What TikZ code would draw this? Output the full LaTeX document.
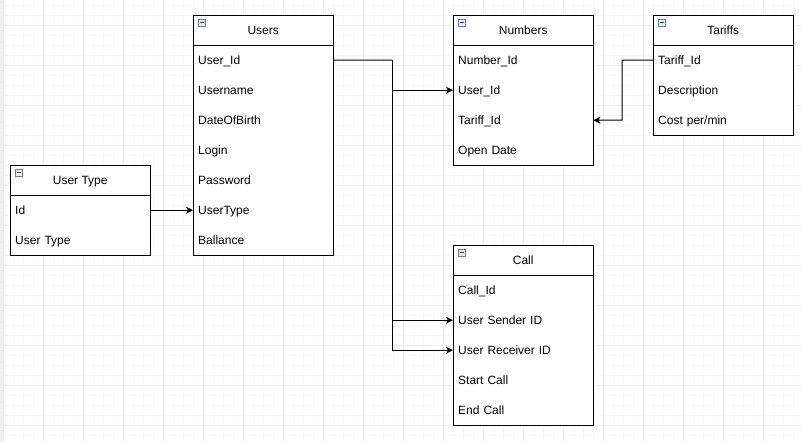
\documentclass[tikz,border=0pt]{standalone}
\usepackage{fontspec}
\setmainfont{Liberation Sans}
\usetikzlibrary{arrows.meta}

\definecolor{iconedge}{RGB}{112,128,148}
\definecolor{iconfill}{RGB}{232,236,240}

% Entity tables: a header, a column of fields and a frame
\tikzset{
  erline/.style={draw=black, line width=1pt},
  erhead/.style={minimum width=140pt, minimum height=30pt, inner sep=0pt,
                 text height=10pt, text depth=1pt,
                 font=\fontsize{12pt}{14pt}\selectfont},
  errow/.style={text width=130pt, inner xsep=5pt, inner ysep=0pt,
                minimum height=30pt, align=left,
                text height=10pt, text depth=1pt,
                font=\fontsize{12pt}{14pt}\selectfont},
  collapse/.style={draw=iconedge, fill=iconfill, line width=0.8pt},
  link/.style={draw=black, line width=1pt,
               -{Stealth[length=7pt, width=7pt, inset=2pt]}},
  plainlink/.style={draw=black, line width=1pt},
  gridminor/.style={draw=gray!5, line width=1pt},
  gridmajor/.style={draw=gray!13, line width=1pt},
}

% \ertable{name}{x}{y}{number of fields}{title}
\newcommand\ertable[5]{%
  \gdef\erName{#1}\gdef\erX{#2}\gdef\erY{#3}%
  \draw[erline, fill=white] (#2,#3) rectangle ++(140,{30+30*#4});
  \node[erhead, anchor=north west] (#1) at (#2,#3) {#5};
  \draw[erline] (#2,#3+30) -- ++(140,0);
  \draw[collapse] (#2+5,#3+4) rectangle ++(7,7);
  \draw[line width=1pt, black!75] (#2+6.5,#3+7.5) -- ++(4,0);
}
% \erfield{key}{index}{text}
\newcommand\erfield[3]{%
  \node[errow, anchor=north west] (\erName-#1) at (\erX,\erY+30*#2) {#3};
}

\begin{document}
\begin{tikzpicture}[x=1pt, y=-1pt]
  \useasboundingbox (0,0) rectangle (802,442);
  \fill[white] (0,0) rectangle (802,442);
  \fill[gray!12] (0,0) rectangle (3,442);

  % background grid
  \foreach \gx in {3,13,...,803} \draw[gridminor] (\gx,0) -- (\gx,442);
  \foreach \gy in {5,15,...,445} \draw[gridminor] (3,\gy) -- (802,\gy);
  \foreach \gx in {3,43,...,803} \draw[gridmajor] (\gx,0) -- (\gx,442);
  \foreach \gy in {25,65,...,445} \draw[gridmajor] (3,\gy) -- (802,\gy);

  % tables
  \ertable{users}{193}{15}{7}{Users}
  \erfield{id}{1}{User\_Id}
  \erfield{name}{2}{Username}
  \erfield{birth}{3}{DateOfBirth}
  \erfield{login}{4}{Login}
  \erfield{password}{5}{Password}
  \erfield{type}{6}{UserType}
  \erfield{balance}{7}{Ballance}

  \ertable{numbers}{453}{15}{4}{Numbers}
  \erfield{id}{1}{Number\_Id}
  \erfield{user}{2}{User\_Id}
  \erfield{tariff}{3}{Tariff\_Id}
  \erfield{open}{4}{Open Date}

  \ertable{tariffs}{653}{15}{3}{Tariffs}
  \erfield{id}{1}{Tariff\_Id}
  \erfield{desc}{2}{Description}
  \erfield{cost}{3}{Cost per/min}

  \ertable{usertype}{10}{165}{2}{User Type}
  \erfield{id}{1}{Id}
  \erfield{type}{2}{User Type}

  \ertable{call}{453}{245}{5}{Call}
  \erfield{id}{1}{Call\_Id}
  \erfield{sender}{2}{User Sender ID}
  \erfield{receiver}{3}{User Receiver ID}
  \erfield{start}{4}{Start Call}
  \erfield{end}{5}{End Call}

  % relations; the three links out of User_Id share one trunk
  \coordinate (userbus) at (392,60);
  \coordinate (tariffbend) at (622,60);
  \draw[plainlink] (users-id.east) -- (userbus);
  \draw[link] (userbus) |- (numbers-user.west);
  \draw[link] (userbus) |- (call-sender.west);
  \draw[link] (userbus) |- (call-receiver.west);
  \draw[link] (tariffs-id.west) -- (tariffbend) |- (numbers-tariff.east);
  \draw[link] (usertype-id.east) -- (users-type.west);
\end{tikzpicture}
\end{document}
